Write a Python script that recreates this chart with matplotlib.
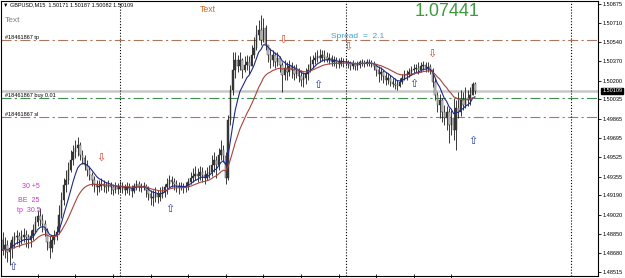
import numpy as np
import pandas as pd
import matplotlib
matplotlib.use("Agg")
import matplotlib.pyplot as plt

plt.rcParams['font.family'] = ['Liberation Sans', 'DejaVu Sans']

# GBPUSD M15 bars, values in pips above BASE
BASE = 1.4850
first_open = 30

closes = [21, 25, 19, 23, 30, 32, 33, 30, 32, 34,
          32, 30, 33, 39, 46, 51, 47, 44, 39, 28,
          23, 30, 33, 37, 52, 65, 78, 83, 91, 100,
          107, 111, 113, 105, 102, 96, 91, 87, 83, 79,
          76, 77, 79, 77, 76, 78, 76, 74, 76, 75,
          77, 76, 74, 76, 75, 73, 77, 79, 77, 76,
          77, 74, 70, 67, 68, 70, 68, 70, 72, 76,
          79, 83, 81, 79, 77, 76, 77, 76, 77, 81,
          84, 86, 88, 86, 90, 87, 84, 88, 90, 96,
          100, 96, 105, 109, 104, 84, 135, 162, 179, 188,
          183, 188, 179, 184, 186, 183, 193, 199, 210, 215,
          206, 216, 201, 193, 188, 193, 186, 190, 184, 175,
          181, 178, 183, 179, 176, 179, 174, 171, 172, 176,
          179, 185, 188, 190, 192, 190, 193, 191, 188, 190,
          186, 188, 186, 185, 187, 186, 186, 185, 183, 185,
          183, 184, 186, 186, 185, 186, 186, 185, 183, 179,
          176, 178, 174, 171, 172, 169, 167, 166, 165, 169,
          172, 175, 176, 178, 179, 180, 181, 179, 183, 184,
          181, 182, 179, 169, 157, 149, 153, 142, 137, 142,
          131, 137, 127, 146, 142, 153, 149, 155, 153, 157,
          167.1, 160.9]

highs = [37, 32, 30, 28, 33, 37, 39, 37, 39, 40,
         39, 35, 39, 44, 51, 56, 58, 53, 47, 40,
         33, 34, 39, 42, 61, 72, 84, 91, 98, 109,
         113, 118, 120, 116, 109, 105, 100, 95, 90, 86,
         83, 83, 84, 83, 81, 83, 81, 79, 81, 80,
         82, 81, 79, 81, 80, 78, 80, 83, 82, 80,
         81, 79, 77, 74, 74, 76, 74, 76, 77, 79,
         84, 87, 86, 84, 83, 81, 81, 80, 81, 84,
         90, 93, 95, 93, 95, 94, 91, 94, 96, 105,
         107, 104, 111, 118, 113, 107, 140, 166, 195, 195,
         193, 195, 190, 192, 193, 192, 201, 208, 219, 223,
         228, 225, 219, 201, 199, 197, 195, 195, 192, 186,
         188, 186, 188, 186, 184, 185, 181, 179, 178, 181,
         185, 192, 193, 195, 197, 198, 197, 197, 195, 194,
         193, 192, 191, 190, 191, 190, 190, 188, 187, 188,
         186, 187, 188, 189, 188, 189, 189, 188, 187, 185,
         183, 182, 179, 178, 177, 175, 172, 172, 171, 172,
         176, 179, 179, 181, 183, 185, 185, 186, 186, 187,
         186, 186, 185, 181, 172, 160, 158, 155, 149, 148,
         146, 144, 155, 153, 160, 162, 160, 164, 162, 164,
         169, 168.7]

lows = [17, 14, 10, 8, 14, 23, 26, 24, 26, 28,
        24, 23, 24, 30, 37, 42, 42, 37, 33, 21,
        14, 19, 26, 30, 35, 49, 61, 72, 79, 90,
        96, 102, 104, 100, 97, 91, 86, 83, 77, 72,
        69, 72, 74, 72, 71, 73, 70, 69, 71, 70,
        72, 71, 69, 71, 69, 68, 71, 74, 73, 72,
        74, 68, 65, 61, 60, 63, 62, 64, 67, 68,
        70, 76, 76, 74, 72, 70, 74, 71, 72, 74,
        79, 81, 83, 81, 83, 81, 79, 83, 84, 86,
        90, 84, 91, 100, 98, 79, 83, 131, 157, 172,
        178, 179, 172, 178, 179, 176, 183, 190, 197, 206,
        201, 204, 197, 186, 181, 183, 181, 183, 178, 160,
        171, 171, 174, 172, 171, 172, 169, 165, 164, 167,
        171, 178, 181, 185, 186, 186, 187, 186, 186, 185,
        183, 183, 181, 181, 183, 182, 183, 181, 179, 180,
        179, 179, 181, 183, 182, 183, 183, 182, 179, 174,
        169, 171, 168, 166, 167, 165, 164, 163, 162, 164,
        167, 171, 171, 173, 175, 176, 178, 176, 178, 179,
        178, 178, 176, 164, 153, 142, 137, 134, 131, 127,
        115, 122, 118, 109, 137, 139, 144, 146, 148, 149,
        157, 158.2]

tp_price = 1.50556
buy_price = 1.50048
sl_price = 1.49876
bid_price = 1.50109
ticket = "#18461867"

price_ticks = [1.50875, 1.50710, 1.50540, 1.50370, 1.50200, 1.50035, 1.49865,
               1.49695, 1.49525, 1.49355, 1.49190, 1.49020, 1.48850, 1.48680, 1.48515]
day_starts = [50, 146, 242]

up_x = [4.5, 71.3, 134.3, 175.1, 200.2]
up_y = [1.48560, 1.49070, 1.50160, 1.50170, 1.49670]
down_x = [41.9, 119.4, 147.0, 182.8]
down_y = [1.49520, 1.50558, 1.50496, 1.50435]

# ---------------------------------------------------------------
c = BASE + np.array(closes) / 10000
h = BASE + np.array(highs) / 10000
l = BASE + np.array(lows) / 10000
o = np.r_[BASE + first_open / 10000, c[:-1]]
x = np.arange(len(c))

W, H = 625, 278
fig = plt.figure(figsize=(W / 100, H / 100), dpi=100)
ax = fig.add_axes([1 / W, 2 / H, 597 / W, 275 / H])
ax.set_xlim(-0.64, 253.4)
ax.set_ylim(1.48481, 1.50901)


def fx(px):
    return px / W


def fy(py):
    return 1 - py / H


# order lines
ax.axhline(bid_price, color='#c8c8c8', lw=1.8, zorder=1)
dash = (0, (9, 3, 2, 3))
ax.axhline(tp_price, color='#a8785e', lw=0.8, ls=dash, zorder=1)
ax.axhline(buy_price, color='#3f8f4f', lw=0.8, ls=dash, zorder=1)
ax.axhline(sl_price, color='#a8785e', lw=0.8, ls=dash, zorder=1)
for d in day_starts:
    ax.axvline(d, color='black', lw=0.8, ls=(0, (1, 1.6)), zorder=1)

# candles
bull = c >= o
ax.vlines(x, l, h, color='#1a1a1a', lw=0.6, zorder=3)
ax.bar(x, c - o, bottom=o, width=0.62,
       color=np.where(bull, '#3a3a3a', '#cfcfcf'),
       edgecolor='#2a2a2a', lw=0.3, zorder=4)

# moving averages
s = pd.Series(c)
ax.plot(x, s.ewm(span=8, adjust=False).mean(), color='#1c2a8c', lw=0.8, zorder=5)
ax.plot(x, s.ewm(span=21, adjust=False).mean(), color='#a8443c', lw=0.8, zorder=5)

# arrows
for xi, yi in zip(up_x, up_y):
    ax.text(xi, yi, '\u21e7', color='#2a3ca8', fontsize=8, ha='center', va='center',
            family=['DejaVu Sans'], zorder=6)
for xi, yi in zip(down_x, down_y):
    ax.text(xi, yi, '\u21e9', color='#d0452a', fontsize=8, ha='center', va='center',
            family=['DejaVu Sans'], zorder=6)

# line labels
for price, lab in [(tp_price, 'tp'), (buy_price, 'buy 0.01'), (sl_price, 'sl')]:
    ax.text(1.2, price + 0.00003, f'{ticket} {lab}', fontsize=4, color='black',
            ha='left', va='bottom', zorder=6)

# axes styling
for sp in ax.spines.values():
    sp.set_color('black')
    sp.set_linewidth(0.8)
ax.yaxis.tick_right()
ax.set_yticks(price_ticks)
ax.set_yticklabels([f'{p:.5f}' for p in price_ticks])
ax.tick_params(axis='y', length=2, width=0.6, labelsize=4, pad=1.5)
ax.set_xticks(np.arange(15, 202, 16))
ax.set_xticklabels([])
ax.tick_params(axis='x', length=3, width=0.6, direction='inout')

ax.annotate(f'{bid_price:.5f}', xy=(1.0, bid_price), xycoords=('axes fraction', 'data'),
            xytext=(3, 0), textcoords='offset points', fontsize=4, color='white',
            va='center', ha='left',
            bbox=dict(boxstyle='square,pad=0.15', fc='black', ec='black'))

# screen labels
fig.text(fx(3), fy(5), '\u25bc GBPUSD,M15  1.50171 1.50187 1.50082 1.50109',
         fontsize=4, va='center', ha='left', family=['Liberation Sans', 'DejaVu Sans'])
fig.text(fx(5), fy(20), 'Text', fontsize=6, color='#808080', va='center', ha='left')
fig.text(fx(200), fy(9), 'Text', fontsize=6.3, color='#d2691e', va='center', ha='left')
fig.text(fx(447), fy(12), '1.07441', fontsize=13, color='#3f993f', va='center', ha='center')
fig.text(fx(331), fy(36), 'Spread  =  2.1', fontsize=6, color='#3f9fd6', va='center', ha='left')
fig.text(fx(22), fy(187), '30 +5', fontsize=5, color='#cc33cc', va='center', ha='left')
fig.text(fx(18), fy(200), 'BE  25', fontsize=5, color='#cc33cc', va='center', ha='left')
fig.text(fx(17), fy(210), 'tp  30.5', fontsize=5, color='#cc33cc', va='center', ha='left')

fig.savefig('out.png', dpi=100)
